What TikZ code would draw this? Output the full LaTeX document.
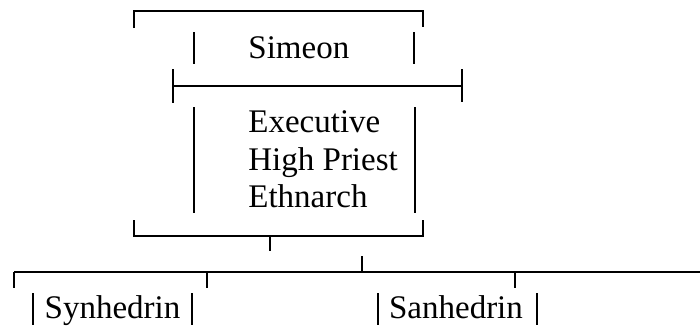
\documentclass[tikz,border=0pt]{standalone}
\usepackage{fontspec}
\setmainfont{Liberation Serif}
\begin{document}
\begin{tikzpicture}[x=0.5pt,y=-0.5pt,
  txt/.style={font=\fontsize{16.5}{18.75}\selectfont, inner sep=0pt},
  rule/.style={line width=1.25pt},
  bar/.style={line width=1pt}]
\useasboundingbox (0,0) rectangle (700,327);

% titles and offices
\node[txt, anchor=base west] (simeon)    at (248,58)  {Simeon};
\node[txt, anchor=base west] (executive) at (248,132) {Executive};
\node[txt, anchor=base west] (priest)    at (248,170) {High Priest};
\node[txt, anchor=base west] (ethnarch)  at (248,207) {Ethnarch};
\node[txt, anchor=base] (synhedrin) at (112.5,318) {Synhedrin};
\node[txt, anchor=base] (sanhedrin) at (456,318)   {Sanhedrin};

% bracket corners and junction points
\coordinate (topL) at (134,11);   \coordinate (topR) at (423,11);
\coordinate (midL) at (173,86);   \coordinate (midR) at (462,86);
\coordinate (botL) at (134,236);  \coordinate (botR) at (423,236);
\coordinate (stemA) at (270,236); \coordinate (stemB) at (270,251);
\coordinate (stemC) at (362,256); \coordinate (bus)   at (362,272);
\coordinate (busL) at (14,272);   \coordinate (busR)  at (700,272);

% top bracket
\draw[rule] (134,28) -- (topL) -- (topR) -- (423,27);
% bars beside Simeon
\draw[bar] (194,32) -- (194,64);
\draw[bar] (414,32) -- (414,64);
% dividing rule
\draw[rule] (midL) -- (midR);
\draw[bar] (173,69) -- (173,103);
\draw[bar] (462,69) -- (462,102);
% bars beside the offices
\draw[bar] (194,107) -- (194,213);
\draw[bar] (415,107) -- (415,213);
% bottom bracket
\draw[rule] (134,220) -- (botL) -- (botR) -- (423,220);
\draw[bar] (stemA) -- (stemB);
\draw[bar] (stemC) -- (bus);
% council bus
\draw[rule] (busL) -- (busR);
\draw[bar] (busL) -- (14,288);
\draw[bar] (207,272) -- (207,288);
\draw[bar] (515,272) -- (515,288);
% bars beside the councils
\draw[bar] (33,293) -- (33,325);
\draw[bar] (192,293) -- (192,325);
\draw[bar] (378,293) -- (378,325);
\draw[bar] (537,293) -- (537,325);
\end{tikzpicture}
\end{document}
